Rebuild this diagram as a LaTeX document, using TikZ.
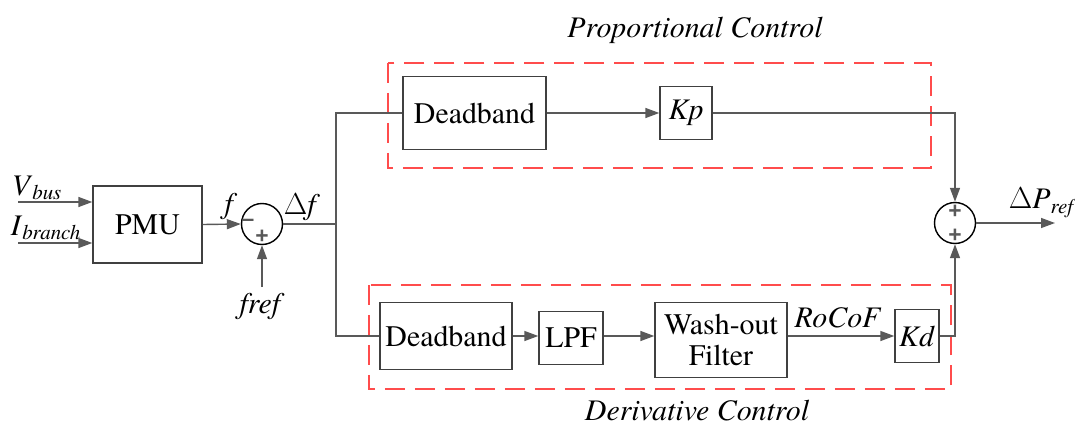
\documentclass[tikz,border=0pt]{standalone}
\usepackage{fontspec}
\setmainfont{texgyretermes}[Extension=.otf, UprightFont=*-regular, ItalicFont=*-italic, BoldFont=*-bold, BoldItalicFont=*-bolditalic]
\newfontfamily\signfont{Liberation Sans}
\usetikzlibrary{shapes,arrows.meta,positioning,calc}

\begin{document}
\begin{tikzpicture}[x=0.02cm, y=-0.02cm, font=\fontsize{17}{17}\selectfont]
  \tikzstyle{block}=[rectangle, draw=black!75, line width=0.8pt, inner sep=0pt, align=center]
  \tikzstyle{sumnode}=[circle, draw=black, line width=0.8pt, minimum size=0.82cm, inner sep=0pt]
  \tikzstyle{sig}=[-{Triangle[length=0.28cm,width=0.2cm]}, draw=black!65, line width=0.8pt]
  \tikzstyle{wire}=[draw=black!65, line width=0.8pt]
  \tikzstyle{group}=[draw=red!70, line width=0.8pt, dash pattern=on 0.4cm off 0.2cm]
  \tikzstyle{sign}=[font=\signfont\bfseries\fontsize{13}{13}\selectfont, text=black!65, inner sep=0pt]

  \useasboundingbox (0,0) rectangle (1075,426);

  \draw[group] (388,63) rectangle (931,168);
  \draw[group] (369,285) rectangle (951,389);

  \node[block, minimum width=2.18cm, minimum height=1.54cm] (pmu) at (147.5,224.5) {PMU};
  \node[sumnode] (s1) at (262,224) {};
  \node[sign] (s1m) at (248,223) {\textendash};
  \node[sign] (s1p) at (262,237) {+};
  \node[block, minimum width=2.86cm, minimum height=1.46cm] (db1) at (474.5,113) {Deadband};
  \node[block, minimum width=1.04cm, minimum height=1.06cm] (kp) at (686,113) {\textit{Kp}};
  \node[sumnode] (s2) at (955,223) {};
  \node[sign] (s2a) at (955,212) {+};
  \node[sign] (s2b) at (955,236) {+};
  \node[block, minimum width=2.64cm, minimum height=1.34cm] (db2) at (446,336) {Deadband};
  \node[block, minimum width=1.28cm, minimum height=1.06cm] (lpf) at (571,338) {LPF};
  \node[block, minimum width=2.64cm, minimum height=1.5cm] (wof) at (721,340) {Wash-out\\[1pt]Filter};
  \node[block, minimum width=0.88cm, minimum height=1.06cm] (kd) at (917,336) {\textit{Kd}};

  \node (vbus) at (37,188) {\textit{V}\textsubscript{\textit{bus}}};
  \node (ibr) at (46,228) {\textit{I}\textsubscript{\textit{branch}}};
  \node (flab) at (231,206) {\textit{f}};
  \node (df) at (302,207) {$\Delta$\textit{f}};
  \node (fref) at (262,306) {\textit{fref}};
  \node (rocof) at (838,318) {\textit{RoCoF}};
  \node (dpref) at (1043,203) {$\Delta$\textit{P}\textsubscript{\textit{ref}}};
  \node (ptitle) at (695,30) {\textit{Proportional Control}};
  \node (dtitle) at (697,411) {\textit{Derivative Control}};

  \coordinate (vbin) at (18,202);
  \coordinate (ibin) at (18,243);
  \coordinate (frin) at (262,287);
  \coordinate (jn) at (336,224);
  \coordinate (pout) at (1055,223);

  \draw[sig] (vbin) -- (vbin -| pmu.west);
  \draw[sig] (ibin) -- (ibin -| pmu.west);
  \draw[sig] (pmu.east) -- (s1.west);
  \draw[sig] (frin) -- (s1.south);
  \draw[wire] (s1.east) -- (jn);
  \draw[wire] (db1.west) -| (jn);
  \draw[wire] (db2.west) -| (jn);
  \draw[sig] (db1.east) -- (kp.west);
  \draw[sig] (kp.east) -| (s2.north);
  \draw[sig] (db2.east) -- (db2.east -| lpf.west);
  \draw[sig] (lpf.east |- db2.east) -- (db2.east -| wof.west);
  \draw[sig] (wof.east |- kd.west) -- (kd.west);
  \draw[sig] (kd.east) -| (s2.south);
  \draw[sig] (s2.east) -- (pout);
\end{tikzpicture}
\end{document}
